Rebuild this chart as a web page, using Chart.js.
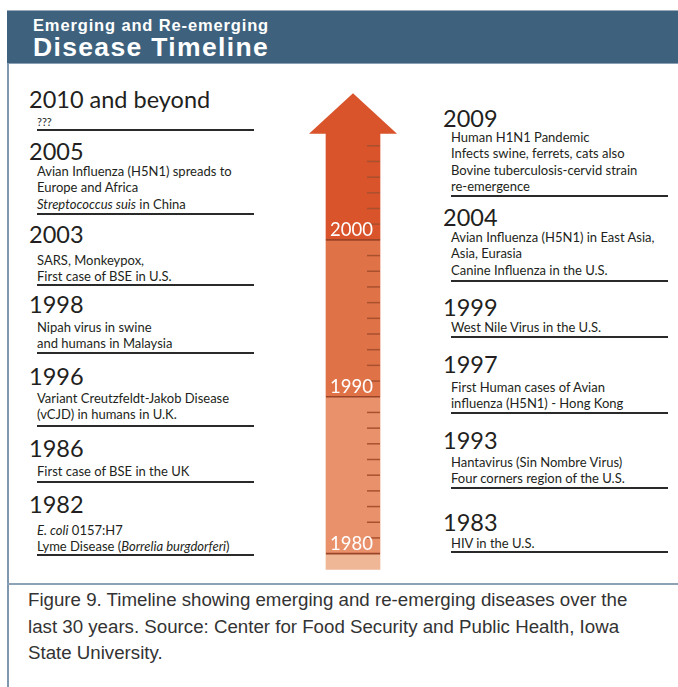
<!DOCTYPE html>
<html>
<head>
<meta charset="utf-8">
<script src="https://cdn.jsdelivr.net/npm/chart.js@4.4.1/dist/chart.umd.min.js"></script>
<style>
  html,body{margin:0;padding:0;background:#fff;}
  body{width:678px;height:687px;position:relative;overflow:hidden;}
  .abs{position:absolute;white-space:nowrap;}
  .yr{font-family:Lato,"Open Sans",sans-serif;font-size:23.5px;color:#231f20;line-height:1;}
  .tx{font-family:Lato,"Open Sans",sans-serif;font-size:13px;color:#231f20;line-height:1;}
  .small{font-size:11px;}
  .rule{position:absolute;height:1.4px;background:#2a2a2a;}
  .cap{font-family:"Liberation Sans",Arial,sans-serif;font-size:18.7px;color:#333;line-height:1;}
  .hd{font-family:"Liberation Sans",Arial,sans-serif;font-weight:bold;color:#fff;line-height:0.8;}
</style>
</head>
<body>
<div style="position:absolute;left:7px;top:10px;width:671px;height:52px;background:#3e627d;border-top:1px solid #9aaabb;border-bottom:1px solid #8a9fb3;"></div>
<div style="position:absolute;left:7px;top:63px;width:2px;height:624px;background:#8197ae;"></div>
<div style="position:absolute;left:7px;top:583px;width:671px;height:2px;background:#8ea2b6;"></div>
<canvas id="c" width="100" height="502" style="position:absolute;left:303px;top:83px;"></canvas>
<div id="texts"></div>
<script>
// ---------- timeline data ----------
const segStart  = [1979, 1980, 1990, 2000];
const segEnd    = [1980, 1990, 2000, 2006.8];
const segColors = ['#f0b797', '#e9916b', '#e07248', '#d9532b'];
const headBase = 2006.8;
const headTip  = 2009.35;
const decadeYears  = [1980, 1990, 2000];
const decadeLabels = ['1980', '1990', '2000'];
const minorYears = [1981,1982,1983,1984,1985,1986,1987,1988,1989,
                    1991,1992,1993,1994,1995,1996,1997,1998,1999,
                    2001,2002,2003,2004,2005,2006];
const axisMin = 1978, axisMax = 2010;

const leftYears = ['2010 and beyond','2005','2003','1998','1996','1986','1982'];
const leftTexts = [
  ['???'],
  ['Avian Influenza (H5N1) spreads to','Europe and Africa','_Streptococcus suis_ in China'],
  ['SARS, Monkeypox,','First case of BSE in U.S.'],
  ['Nipah virus in swine','and humans in Malaysia'],
  ['Variant Creutzfeldt-Jakob Disease','(vCJD) in humans in U.K.'],
  ['First case of BSE in the UK'],
  ['_E. coli_ 0157:H7','Lyme Disease (_Borrelia burgdorferi_)']
];
const rightYears = ['2009','2004','1999','1997','1993','1983'];
const rightTexts = [
  ['Human H1N1 Pandemic','Infects swine, ferrets, cats also','Bovine tuberculosis-cervid strain','re-emergence'],
  ['Avian Influenza (H5N1) in East Asia,','Asia, Eurasia','Canine Influenza in the U.S.'],
  ['West Nile Virus in the U.S.'],
  ['First Human cases of Avian','influenza (H5N1) - Hong Kong'],
  ['Hantavirus (Sin Nombre Virus)','Four corners region of the U.S.'],
  ['HIV in the U.S.']
];
const titleLines = ['Emerging and Re-emerging','Disease Timeline'];
const captionLines = ['Figure 9. Timeline showing emerging and re-emerging diseases over the',
  'last 30 years. Source: Center for Food Security and Public Health, Iowa',
  'State University.'];

// ---------- layout (positions only) ----------
const leftLayout  = {yearX:29, textX:37, ruleX:37, ruleW:217,
  yearBase:[108,160,243,313,385,457,513], firstBase:[126,176,265,332,403,476,535], rule:[130,214,285,353,426,482,555]};
const rightLayout = {yearX:443, textX:451, ruleX:451, ruleW:217,
  yearBase:[127,226,316,373,449,531], firstBase:[142,242,332,392,467,548], rule:[196,281,337,413,488,552]};
const lineStep = 16.4;

const host = document.getElementById('texts');
function placeText(html, cls, x, baseline, extraStyle){
  const el = document.createElement('div');
  el.className = 'abs ' + cls;
  el.innerHTML = html;
  if (extraStyle) Object.assign(el.style, extraStyle);
  el.style.left = x + 'px'; el.style.top = '0px';
  const m = document.createElement('span');
  m.style.cssText = 'display:inline-block;width:0;height:0;vertical-align:baseline;';
  el.appendChild(m);
  host.appendChild(el);
  const off = m.offsetTop;
  el.style.top = (baseline - off) + 'px';
  return el;
}
function md(s){
  return s.split('_').map((p,i)=> i%2 ? '<i>'+p+'</i>' : p).join('');
}
function column(years, texts, L){
  years.forEach((y,i)=>{
    placeText(y, 'yr', L.yearX, L.yearBase[i]);
    texts[i].forEach((t,j)=>{
      placeText(md(t), 'tx' + (t==='???' ? ' small' : ''), L.textX, L.firstBase[i] + j*lineStep);
    });
    const r = document.createElement('div');
    r.className = 'rule';
    r.style.left = L.ruleX + 'px'; r.style.width = L.ruleW + 'px';
    r.style.top = (L.rule[i] - 0.7) + 'px';
    host.appendChild(r);
  });
}
column(leftYears, leftTexts, leftLayout);
column(rightYears, rightTexts, rightLayout);

// header title, fitted to its width with letter-spacing
function fitted(text, size, x, base, target){
  const el = placeText(text, 'hd', x, base, {fontSize: size+'px'});
  const w = el.getBoundingClientRect().width;
  const ls = (target - w) / text.length;
  el.style.letterSpacing = ls + 'px';
  return el;
}
fitted(titleLines[0], 16.5, 33, 30.5, 236);
fitted(titleLines[1], 26.5, 33, 56, 236);

captionLines.forEach((t,i)=> placeText(t, 'cap', 28, 606 + i*26.6));

// ---------- Chart.js arrow ----------
const arrowPlugin = {
  id: 'arrowParts',
  afterDatasetsDraw(chart){
    const ctx = chart.ctx, ys = chart.scales.y;
    const bar = chart.getDatasetMeta(0).data[0];
    const cx = bar.x, half = bar.width / 2;
    const left = cx - half, right = cx + half;
    ctx.save();
    // arrow head
    ctx.fillStyle = segColors[segColors.length - 1];
    ctx.beginPath();
    const yb = ys.getPixelForValue(headBase) + 0.5;
    ctx.moveTo(cx - 44, yb);
    ctx.lineTo(cx, ys.getPixelForValue(headTip));
    ctx.lineTo(cx + 44, yb);
    ctx.closePath();
    ctx.fill();
    // minor year ticks
    ctx.strokeStyle = '#a9502f';
    ctx.lineWidth = 1.5;
    minorYears.forEach(yr=>{
      const p = ys.getPixelForValue(yr);
      ctx.beginPath(); ctx.moveTo(right - 13, p); ctx.lineTo(right, p); ctx.stroke();
    });
    // decade lines and labels
    ctx.strokeStyle = '#9a4428';
    ctx.lineWidth = 1.6;
    ctx.fillStyle = '#ffffff';
    ctx.font = '18.5px Lato, "Open Sans", sans-serif';
    ctx.textBaseline = 'alphabetic';
    decadeYears.forEach((yr,i)=>{
      const p = ys.getPixelForValue(yr);
      ctx.beginPath(); ctx.moveTo(left, p); ctx.lineTo(right, p); ctx.stroke();
      ctx.fillText(decadeLabels[i], left + 4, p - 4);
    });
    ctx.restore();
  }
};

new Chart(document.getElementById('c'), {
  type: 'bar',
  data: {
    labels: ['timeline'],
    datasets: segStart.map((s,i)=>({
      data: [[s, segEnd[i]]],
      backgroundColor: segColors[i],
      borderWidth: 0,
      borderSkipped: false,
      barThickness: 54,
      grouped: false
    }))
  },
  options: {
    responsive: false,
    animation: false,
    events: [],
    layout: {padding: 0},
    plugins: {legend: {display: false}, tooltip: {enabled: false}},
    scales: {
      x: {display: false},
      y: {display: false, min: axisMin, max: axisMax}
    }
  },
  plugins: [arrowPlugin]
});
</script>
</body>
</html>
